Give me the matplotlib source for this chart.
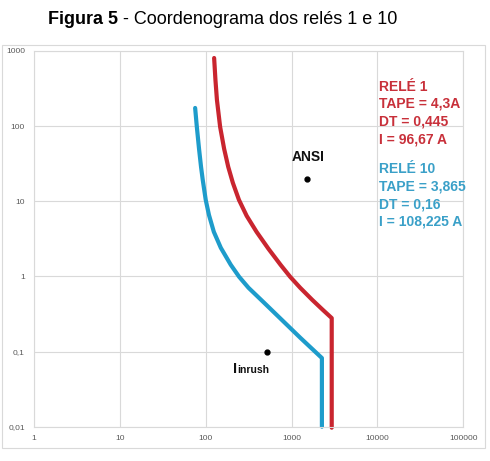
import matplotlib
matplotlib.use("Agg")
import matplotlib.pyplot as plt
from matplotlib.patches import Rectangle

plt.rcParams['font.family'] = ['Liberation Sans', 'DejaVu Sans']

# ---- data ----
red_x = [125.3, 129.8, 135.1, 147.2, 163.9, 182.9, 207.0, 243.8, 299.8, 390.9, 538.0,
         744, 963, 1260, 1739, 2304, 2934, 2934]
red_t = [807, 411.7, 223.0, 97.6, 49.8, 28.7, 17.6, 10.44, 6.40, 3.92, 2.33,
         1.427, 0.988, 0.706, 0.488, 0.360, 0.279, 0.0097]

blue_x = [75.3, 78.8, 83.6, 88.2, 92.3, 100, 109, 124.3, 150, 195.6, 245, 315,
          479, 767, 1260, 2255, 2255]
blue_t = [174.6, 97.6, 49.8, 28.7, 19.3, 10.44, 6.59, 3.92, 2.40, 1.43, 0.988, 0.706,
          0.446, 0.265, 0.153, 0.082, 0.01]

ansi_x, ansi_t = 1520, 20
inrush_x, inrush_t = 515, 0.1

x_ticks = [1, 10, 100, 1000, 10000, 100000]
x_labels = ['1', '10', '100', '1000', '10000', '100000']
y_ticks = [0.01, 0.1, 1, 10, 100, 1000]
y_labels = ['0,01', '0,1', '1', '10', '100', '1000']

red_text = ['RELÉ 1', 'TAPE = 4,3A', 'DT = 0,445', 'I = 96,67 A']
blue_text = ['RELÉ 10', 'TAPE = 3,865', 'DT = 0,16', 'I = 108,225 A']

RED = '#C9252F'
BLUE = '#1E9CCB'
RED_T = '#C8303A'
BLUE_T = '#3AA0C8'
GRID = '#D9D9D9'

W, H = 490, 461
fig = plt.figure(figsize=(W / 100, H / 100), dpi=100)

def fx(px):
    return px / W

def fy(py):
    return 1 - py / H

# outer chart border
fig.patches.append(Rectangle((fx(2), fy(448)), (485 - 2) / W, (448 - 45) / H,
                             transform=fig.transFigure, fill=False,
                             edgecolor=GRID, lw=0.8))

ax = fig.add_axes([fx(34), fy(426.7), (463.3 - 34) / W, (426.7 - 51) / H])
ax.set_xscale('log')
ax.set_yscale('log')
ax.set_xlim(1, 100000)
ax.set_ylim(0.01, 1000)
ax.set_xticks(x_ticks)
ax.set_xticklabels(x_labels)
ax.set_yticks(y_ticks)
ax.set_yticklabels(y_labels)
ax.minorticks_off()
ax.tick_params(length=0, labelsize=6, labelcolor='#595959')
ax.tick_params(axis='y', pad=6.5)
ax.tick_params(axis='x', pad=6)
ax.grid(True, color=GRID, lw=0.8)
ax.set_axisbelow(True)
for s in ax.spines.values():
    s.set_color(GRID)
    s.set_linewidth(0.8)

ax.plot(red_x, red_t, color=RED, lw=3, solid_capstyle='round', solid_joinstyle='round', clip_on=False)
ax.plot(blue_x, blue_t, color=BLUE, lw=3, solid_capstyle='round', solid_joinstyle='round', clip_on=False)

ax.plot([ansi_x], [ansi_t], 'o', color='black', ms=3.5)
ax.plot([inrush_x], [inrush_t], 'o', color='black', ms=3.5)

# ANSI label
fig.text(fx(308), fy(157), 'ANSI', ha='center', va='center', fontsize=10, fontweight='bold', color='#111111')
# I inrush label
fig.text(fx(233), fy(373), 'I', ha='left', va='baseline', fontsize=10.5, fontweight='bold', color='#111111')
fig.text(fx(237.5), fy(373), 'inrush', ha='left', va='baseline', fontsize=7.5, fontweight='bold', color='#111111')

# relay annotations
red_y = [86.7, 104, 121.7, 139.3]
blue_y = [169.3, 186.7, 204.3, 221.7]
for s, yy in zip(red_text, red_y):
    fig.text(fx(379), fy(yy), s, ha='left', va='center', fontsize=10, fontweight='bold', color=RED_T)
for s, yy in zip(blue_text, blue_y):
    fig.text(fx(379), fy(yy), s, ha='left', va='center', fontsize=10, fontweight='bold', color=BLUE_T)

# title
tb = fig.text(fx(48), fy(24), 'Figura 5', ha='left', va='baseline', fontsize=13, fontweight='bold', color='black')
r = fig.canvas.get_renderer()
bb = tb.get_window_extent(renderer=r)
fig.text(bb.x1 / W, fy(24), ' - Coordenograma dos relés 1 e 10', ha='left', va='baseline', fontsize=13, color='black')

fig.savefig('out.png', dpi=100)
